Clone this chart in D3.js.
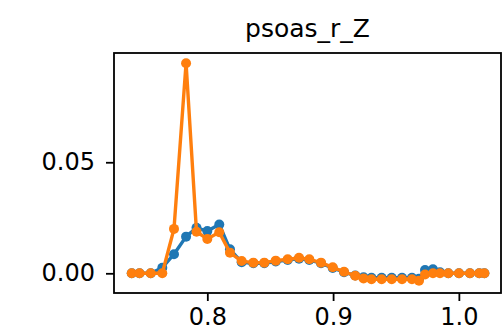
<!DOCTYPE html>
<html><head><meta charset="utf-8">
<script src="https://cdn.jsdelivr.net/npm/d3@7"></script>
<style>body{margin:0;background:#fff}svg{display:block}text{font-family:"DejaVu Sans",sans-serif}</style>
</head><body><svg id="c" width="503" height="335"></svg>
<script>
const title = "psoas_r_Z";
const xValues = [0.7399,0.7461,0.7550,0.7642,0.7735,0.7831,0.7914,0.8000,0.8095,0.8180,0.8273,0.8366,0.8453,0.8544,0.8639,0.8729,0.8811,0.8904,0.8997,0.9087,0.9176,0.9242,0.9305,0.9386,0.9466,0.9548,0.9627,0.9683,0.9731,0.9794,0.9850,0.9916,1.0001,1.0088,1.0162,1.0203];
const blueValues = [0,0,0,0.0025,0.0086,0.0165,0.0205,0.0190,0.0220,0.0108,0.0050,0.0045,0.0045,0.0053,0.0060,0.0066,0.0060,0.0045,0.0024,0.0005,-0.0010,-0.0018,-0.0020,-0.0020,-0.0020,-0.0020,-0.0020,-0.0025,0.0015,0.0018,0.0005,0,0,0,0,0];
const orangeValues = [0,0,0,0,0.0200,0.0946,0.0187,0.0155,0.0185,0.0093,0.0055,0.0048,0.0048,0.0057,0.0063,0.0070,0.0063,0.0048,0.0027,0.0007,-0.0011,-0.0023,-0.0027,-0.0027,-0.0027,-0.0027,-0.0027,-0.0033,-0.0005,0.0000,0,0,0,0,0,0];
const xTicks = [0.8,0.9,1.0];
const yTicks = [0.00,0.05];
const seriesColors = ["#1f77b4","#ff7f0e"];

const svg = d3.select("#c");
const L=114,R=501,T=53,B=293;
const x = d3.scaleLinear().domain([0.7258,1.0335]).range([L,R]);
const y = d3.scaleLinear().domain([-0.00887,0.0992]).range([B,T]);

const series = [blueValues, orangeValues];
series.forEach((vals,i)=>{
  const pts = xValues.map((xv,j)=>[xv,vals[j]]);
  const g = svg.append("g");
  g.append("path").datum(pts)
    .attr("d", d3.line().x(d=>x(d[0])).y(d=>y(d[1])))
    .attr("fill","none").attr("stroke",seriesColors[i]).attr("stroke-width",3.4).attr("stroke-linejoin","round");
  g.selectAll("circle").data(pts).enter().append("circle")
    .attr("cx",d=>x(d[0])).attr("cy",d=>y(d[1])).attr("r",5).attr("fill",seriesColors[i]);
});

const xAxis = svg.append("g").attr("transform",`translate(0,${B})`)
  .call(d3.axisBottom(x).tickValues(xTicks).tickFormat(d3.format(".1f")).tickSize(8).tickPadding(7));
const yAxis = svg.append("g").attr("transform",`translate(${L},0)`)
  .call(d3.axisLeft(y).tickValues(yTicks).tickFormat(d3.format(".2f")).tickSize(8).tickPadding(11));
[xAxis,yAxis].forEach(a=>{
  a.select(".domain").remove();
  a.selectAll(".tick line").attr("stroke","#000").attr("stroke-width",1.8);
  a.selectAll(".tick text").attr("fill","#000").style("font-size","24px").style("font-family","DejaVu Sans");
});
svg.append("rect").attr("x",L).attr("y",T).attr("width",R-L).attr("height",B-T)
  .attr("fill","none").attr("stroke","#000").attr("stroke-width",1.8);
svg.append("text").attr("x",(L+R)/2).attr("y",T-16).attr("text-anchor","middle")
  .style("font-size","25px").attr("fill","#000").text(title);
</script></body></html>
